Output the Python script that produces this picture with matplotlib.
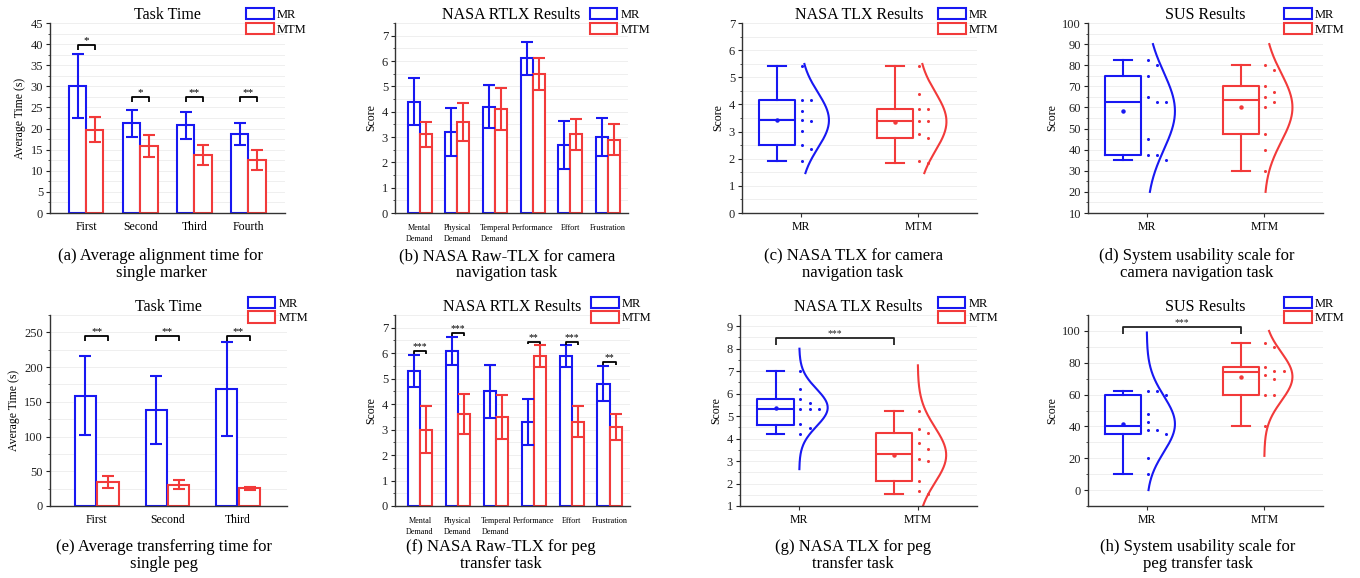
import numpy as np
import matplotlib.pyplot as plt
from matplotlib.patches import Patch
from matplotlib.ticker import MultipleLocator

plt.rcParams['font.family'] = ['Liberation Serif', 'DejaVu Serif']

BLUE = '#1818F2'
RED = '#F23A3A'
GROUPS = ['MR', 'MTM']

# (a) alignment time, single marker
a_cats = ['First', 'Second', 'Third', 'Fourth']
a_mr = [30.0, 21.2, 20.8, 18.8]
a_mr_err = [7.6, 3.3, 3.2, 2.6]
a_mtm = [19.7, 15.8, 13.7, 12.6]
a_mtm_err = [3.0, 2.6, 2.3, 2.4]
a_sig = ['*', '*', '**', '**']
a_sig_y = [39.8, 27.4, 27.4, 27.4]

# (b) raw TLX, camera navigation
tlx_cats = ['Mental\nDemand', 'Physical\nDemand', 'Temperal\nDemand',
            'Performance', 'Effort', 'Frustration']
b_mr = [4.4, 3.2, 4.2, 6.1, 2.7, 3.0]
b_mr_err = [0.92, 0.94, 0.85, 0.65, 0.95, 0.74]
b_mtm = [3.1, 3.6, 4.1, 5.5, 3.1, 2.9]
b_mtm_err = [0.5, 0.75, 0.83, 0.63, 0.6, 0.63]

# (c) TLX, camera navigation  (box = whislo, q1, med, q3, whishi)
c_mr_pts = [5.4, 4.17, 4.17, 3.77, 3.4, 3.43, 3.03, 2.5, 2.37, 1.93]
c_mtm_pts = [5.41, 4.38, 3.82, 3.82, 3.39, 3.39, 2.91, 2.78, 1.93, 1.84]
c_mr_box = [1.93, 2.50, 3.41, 4.17, 5.40]
c_mtm_box = [1.84, 2.78, 3.39, 3.82, 5.40]
c_curve = [(1.47, 5.49), (1.47, 5.49)]

# (d) SUS, camera navigation
d_mr_pts = [82.5, 80, 75, 65, 62.5, 62.5, 45, 37.5, 37.5, 35]
d_mtm_pts = [80, 77.5, 70, 67.5, 65, 62.5, 60, 47.5, 40, 30]
d_mr_box = [35, 37.5, 62.5, 75, 82.5]
d_mtm_box = [30, 47.5, 63.5, 70, 80]
d_curve = [(20, 90), (20, 90)]

# (e) transferring time, single peg
e_cats = ['First', 'Second', 'Third']
e_mr = [159, 138, 168]
e_mr_err = [57, 49, 67.5]
e_mtm = [34.5, 30.5, 25.5]
e_mtm_err = [8.5, 6.5, 2.5]
e_sig = ['**', '**', '**']
e_sig_y = [244.7, 244.7, 244.7]

# (f) raw TLX, peg transfer
f_mr = [5.3, 6.1, 4.5, 3.3, 5.9, 4.8]
f_mr_err = [0.63, 0.55, 1.05, 0.9, 0.43, 0.69]
f_mtm = [3.0, 3.6, 3.5, 5.9, 3.3, 3.1]
f_mtm_err = [0.93, 0.78, 0.85, 0.44, 0.61, 0.5]
f_sig = ['***', '***', '', '**', '***', '**']
f_sig_y = [6.08, 6.78, 0, 6.45, 6.44, 5.65]

# (g) TLX, peg transfer
g_mr_pts = [7.0, 6.19, 5.77, 5.6, 5.3, 5.3, 5.3, 4.63, 4.48, 4.2]
g_mtm_pts = [5.25, 4.42, 4.27, 3.8, 3.55, 3.08, 3.0, 2.13, 1.65, 1.53]
g_mr_box = [4.2, 4.61, 5.32, 5.77, 7.0]
g_mtm_box = [1.54, 2.13, 3.31, 4.25, 5.25]
g_curve = [(2.64, 8.0), (1.0, 7.26)]
g_sig_y = 8.46

# (h) SUS, peg transfer
h_mr_pts = [62.5, 60, 62.5, 47.5, 42.5, 37.5, 37.5, 35, 20, 10]
h_mtm_pts = [92.5, 90, 77.5, 75, 75, 72.5, 70, 60, 60, 40]
h_mr_box = [10, 35, 40, 60, 62.5]
h_mtm_box = [40, 60, 74, 77.5, 92.5]
h_curve = [(0, 99), (21.5, 100)]
h_sig_y = 102.3

W, H = 1360, 578
fig = plt.figure(figsize=(W / 100, H / 100), dpi=100)


def make_ax(x0, x1, ytop, ybot):
    ax = fig.add_axes([x0 / W, 1 - ybot / H, (x1 - x0) / W, (ybot - ytop) / H])
    for s in ['top', 'right']:
        ax.spines[s].set_visible(False)
    for s in ['left', 'bottom']:
        ax.spines[s].set_color('#333333')
        ax.spines[s].set_linewidth(1.0)
    ax.tick_params(axis='y', which='major', direction='out', length=3, width=0.8,
                   labelsize=9, colors='#222222', pad=2)
    ax.tick_params(axis='y', which='minor', direction='out', length=1.8, width=0.6,
                   colors='#333333')
    ax.yaxis.grid(True, which='both', color='#EDEDED', lw=0.6)
    ax.set_axisbelow(True)
    return ax


def style_y(ax, lo, hi, major, top, label):
    ax.set_ylim(lo, top)
    ax.yaxis.set_major_locator(MultipleLocator(major))
    ax.yaxis.set_minor_locator(MultipleLocator(major / 2))
    ticks = np.arange(lo, hi + major / 2, major)
    ax.set_yticks(ticks)
    ax.set_yticklabels([f'{t:g}' for t in ticks])
    ax.set_ylabel(label, fontsize=8.5, labelpad=3)


def add_legend(ax, dy):
    handles = [Patch(facecolor='white', edgecolor=BLUE, lw=1.5),
               Patch(facecolor='white', edgecolor=RED, lw=1.5)]
    ax.legend(handles, GROUPS, loc='upper left', bbox_to_anchor=(0.835, 1 + dy),
              frameon=False, fontsize=9, handlelength=2.2, handleheight=1.0,
              handletextpad=0.25, labelspacing=0.15, borderpad=0, borderaxespad=0)


def bracket(ax, x1, x2, y, drop, text, color='black', fs=8):
    ax.plot([x1, x1, x2, x2], [y - drop, y, y, y - drop], color=color, lw=1.3,
            clip_on=False, solid_capstyle='butt')
    ax.text((x1 + x2) / 2, y, text, ha='center', va='bottom', fontsize=fs,
            color=color)


def bar_panel(ax, cats, mr, mr_err, mtm, mtm_err, width, off, xl, xfs, pad):
    x = np.arange(len(cats))
    ekw = dict(elinewidth=1.5, capsize=4, capthick=1.5)
    ax.bar(x - off, mr, width, facecolor='white', edgecolor=BLUE, lw=1.5,
           yerr=mr_err, error_kw=dict(ecolor=BLUE, **ekw))
    ax.bar(x + off, mtm, width, facecolor='white', edgecolor=RED, lw=1.5,
           yerr=mtm_err, error_kw=dict(ecolor=RED, **ekw))
    ax.set_xlim(*xl)
    ax.set_xticks(x)
    ax.set_xticklabels(cats, fontsize=xfs, linespacing=1.45)
    ax.tick_params(axis='x', length=0, pad=pad)
    return x


def slots(vals, delta):
    cols = []
    res = []
    for v in sorted(vals, reverse=True):
        k = 0
        while k < len(cols) and any(abs(v - u) <= delta for u in cols[k]):
            k += 1
        if k == len(cols):
            cols.append([])
        cols[k].append(v)
        res.append((v, k))
    return res


def box_panel(ax, pts_list, box_list, curves, span):
    for i, (pts, bx, (lo, hi), col) in enumerate(zip(pts_list, box_list, curves,
                                                     [BLUE, RED])):
        pts = np.asarray(pts, float)
        st = dict(whislo=bx[0], q1=bx[1], med=bx[2], q3=bx[3], whishi=bx[4],
                  mean=pts.mean(), fliers=[])
        ax.bxp([st], positions=[i - 0.2], widths=0.31, capwidths=0.15,
               showmeans=True, manage_ticks=False,
               boxprops=dict(color=col, lw=1.5),
               whiskerprops=dict(color=col, lw=1.5),
               capprops=dict(color=col, lw=1.5),
               medianprops=dict(color=col, lw=1.5),
               meanprops=dict(marker='o', ms=2.2, mfc=col, mec=col))
        for v, k in slots(pts, 0.035 * span):
            ax.plot(i + 0.01 + 0.077 * k, v, 'o', ms=2.2, color=col,
                    mec='none', clip_on=False)
        m, s = pts.mean(), pts.std(ddof=1)
        yy = np.linspace(lo, hi, 200)
        ax.plot(i + 0.24 * np.exp(-0.5 * ((yy - m) / s) ** 2), yy, color=col,
                lw=1.5)
    ax.set_xlim(-0.5, 1.5)
    ax.set_xticks([0, 1])
    ax.set_xticklabels(GROUPS, fontsize=8.5)
    ax.tick_params(axis='x', length=3, width=0.8, color='#333333', pad=3)


def caption(xc, ytop, text):
    fig.text(xc / W, 1 - ytop / H, text, ha='center', va='top', fontsize=12,
             linespacing=1.05)


# ---------- row 1
ax = make_ax(50, 285, 23, 213)
x = bar_panel(ax, a_cats, a_mr, a_mr_err, a_mtm, a_mtm_err, 0.32, 0.16,
              (-0.67, 3.68), 8.5, 6)
style_y(ax, 0, 45, 5, 45, 'Average Time (s)')
for xi, t, y in zip(x, a_sig, a_sig_y):
    bracket(ax, xi - 0.16, xi + 0.16, y, 1.2, t)
ax.set_title('Task Time', fontsize=11.5, pad=2)
add_legend(ax, 0.079)

ax = make_ax(395, 628, 23, 213)
bar_panel(ax, tlx_cats, b_mr, b_mr_err, b_mtm, b_mtm_err, 0.32, 0.16,
          (-0.66, 5.54), 5.9, 8)
style_y(ax, 0, 7, 1, 7.5, 'Score')
ax.set_title('NASA RTLX Results', fontsize=11.5, pad=2)
add_legend(ax, 0.079)

ax = make_ax(742, 977, 23, 213)
box_panel(ax, [c_mr_pts, c_mtm_pts], [c_mr_box, c_mtm_box], c_curve, 7)
style_y(ax, 0, 7, 1, 7, 'Score')
ax.set_title('NASA TLX Results', fontsize=11.5, pad=2)
add_legend(ax, 0.079)

ax = make_ax(1088, 1323, 23, 213)
box_panel(ax, [d_mr_pts, d_mtm_pts], [d_mr_box, d_mtm_box], d_curve, 90)
style_y(ax, 10, 100, 10, 100, 'Score')
ax.set_title('SUS Results', fontsize=11.5, pad=2)
add_legend(ax, 0.079)

# ---------- row 2
ax = make_ax(50, 287, 315, 506)
x = bar_panel(ax, e_cats, e_mr, e_mr_err, e_mtm, e_mtm_err, 0.30, 0.16,
              (-0.66, 2.69), 8.5, 6)
style_y(ax, 0, 250, 50, 275, 'Average Time (s)')
for xi, t, y in zip(x, e_sig, e_sig_y):
    bracket(ax, xi - 0.16, xi + 0.16, y, 7, t)
ax.set_title('Task Time', fontsize=11.5, pad=2)
add_legend(ax, 0.096)

ax = make_ax(395, 630, 315, 506)
x = bar_panel(ax, tlx_cats, f_mr, f_mr_err, f_mtm, f_mtm_err, 0.32, 0.16,
              (-0.66, 5.54), 5.9, 8)
style_y(ax, 0, 7, 1, 7.5, 'Score')
for xi, t, y in zip(x, f_sig, f_sig_y):
    if t:
        bracket(ax, xi - 0.16, xi + 0.16, y, 0.1, t, fs=7)
ax.set_title('NASA RTLX Results', fontsize=11.5, pad=2)
add_legend(ax, 0.096)

ax = make_ax(740, 977, 315, 506)
box_panel(ax, [g_mr_pts, g_mtm_pts], [g_mr_box, g_mtm_box], g_curve, 8.5)
style_y(ax, 1, 9, 1, 9.5, 'Score')
bracket(ax, -0.2, 0.8, g_sig_y, 0.3, '***', color='#222222', fs=7)
ax.set_title('NASA TLX Results', fontsize=11.5, pad=2)
add_legend(ax, 0.096)

ax = make_ax(1088, 1323, 315, 506)
box_panel(ax, [h_mr_pts, h_mtm_pts], [h_mr_box, h_mtm_box], h_curve, 120)
style_y(ax, 0, 100, 20, 110, 'Score')
ax.set_ylim(-10, 110)
bracket(ax, -0.2, 0.8, h_sig_y, 4, '***', color='#222222', fs=7)
ax.set_title('SUS Results', fontsize=11.5, pad=2)
add_legend(ax, 0.096)

# ---------- captions
caption(161, 248, '(a) Average alignment time for\nsingle marker')
caption(507, 248, '(b) NASA Raw-TLX for camera\nnavigation task')
caption(853, 248, '(c) NASA TLX for camera\nnavigation task')
caption(1197, 248, '(d) System usability scale for\ncamera navigation task')
caption(164, 539, '(e) Average transferring time for\nsingle peg')
caption(501, 539, '(f) NASA Raw-TLX for peg\ntransfer task')
caption(853, 539, '(g) NASA TLX for peg\ntransfer task')
caption(1198, 539, '(h) System usability scale for\npeg transfer task')

fig.savefig('out.png', dpi=100)
